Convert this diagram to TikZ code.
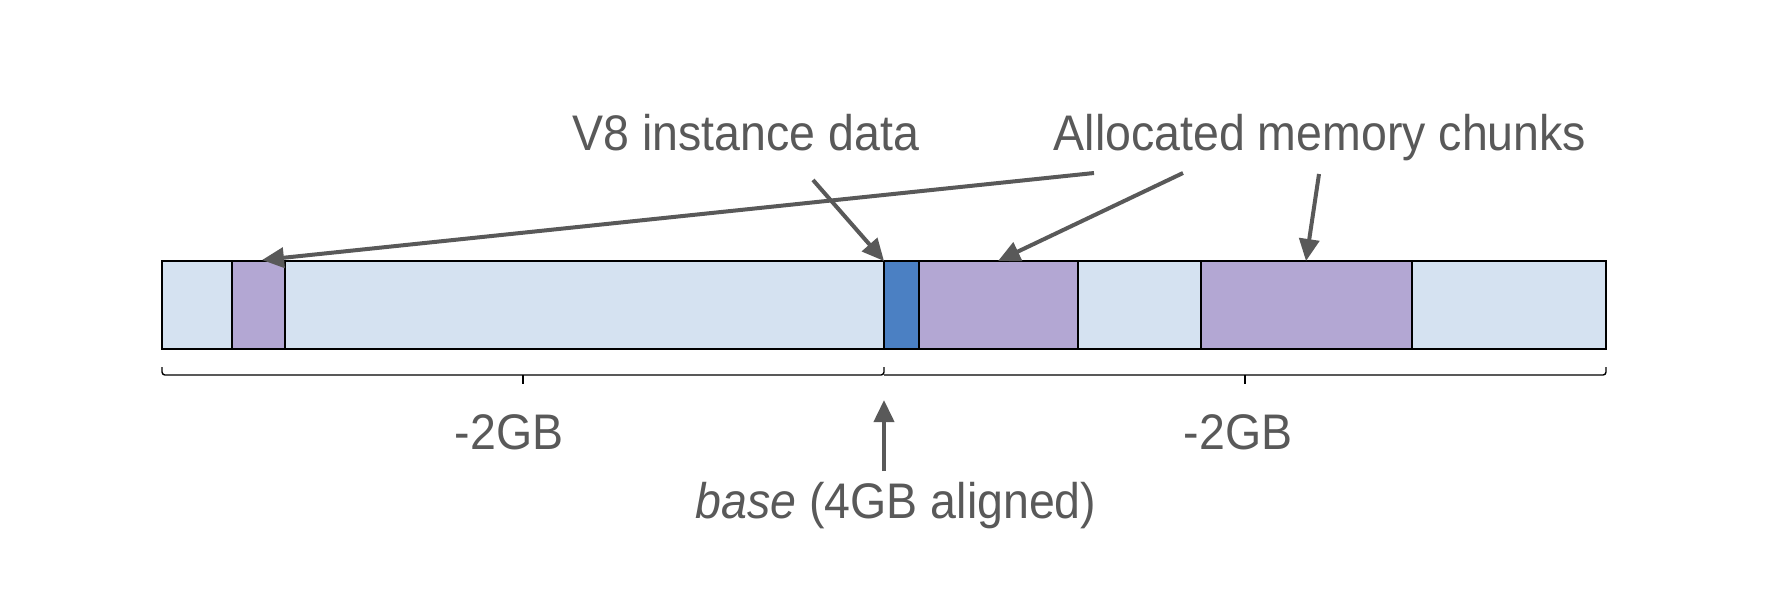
\documentclass[tikz,border=0pt]{standalone}
\usepackage{fontspec}
\setmainfont{Liberation Sans}[FakeStretch=0.93]
\usetikzlibrary{arrows.meta}
\definecolor{txt}{HTML}{595959}
\definecolor{light}{HTML}{D5E2F1}
\definecolor{chunk}{HTML}{B3A7D3}
\definecolor{inst}{HTML}{4B80C3}
\begin{document}
\begin{tikzpicture}[x=0.5pt,y=-0.5pt,
  seg/.style={draw=black,line width=1pt},
  ptr/.style={draw=txt,line width=2pt,-{Triangle[length=11pt,width=10pt]}},
  lbl/.style={text=txt,font=\fontsize{25}{30}\selectfont,inner sep=0pt,anchor=base},
  bracket/.style={draw=black,line width=0.7pt,rounded corners=1.5pt}]
\useasboundingbox (0,0) rectangle (1766,602);
\fill[white] (0,0) rectangle (1766,602);
% memory bar
\filldraw[seg,fill=light] (162,261) rectangle (1606,349);
\filldraw[seg,fill=chunk] (232,261) rectangle (285,349);
\filldraw[seg,fill=inst] (884,261) rectangle (919,349);
\filldraw[seg,fill=chunk] (919,261) rectangle (1078,349);
\filldraw[seg,fill=chunk] (1201,261) rectangle (1412,349);
% brackets
\draw[bracket] (162,367) -- (162,375) -- (884,375) -- (884,367);
\draw[bracket] (884,375) -- (1606,375) -- (1606,367);
\draw[black,line width=0.7pt] (523,375) -- (523,384);
\draw[black,line width=0.7pt] (1245,375) -- (1245,384);
% labels
\node[lbl] (v8) at (746,150) {V8 instance data};
\node[lbl] (alloc) at (1320,150) {Allocated memory chunks};
\node[lbl] (gl) at (509,449) {-2GB};
\node[lbl] (gr) at (1238,449) {-2GB};
\node[lbl] (base) at (896,518) {\textit{base} (4GB aligned)};
% arrow end points
\coordinate (a1s) at (1094,173);
\coordinate (a1e) at (262,260);
\coordinate (vs) at (813,180);
\coordinate (ve) at (884,261);
\coordinate (a2s) at (1183,173);
\coordinate (a2e) at (998,261);
\coordinate (a3s) at (1319,174);
\coordinate (a3e) at (1306,261);
\coordinate (bs) at (884,471);
\coordinate (be) at (884,400);
\draw[ptr] (a1s) -- (a1e);
\draw[ptr] (vs) -- (ve);
\draw[ptr] (a2s) -- (a2e);
\draw[ptr] (a3s) -- (a3e);
\draw[ptr] (bs) -- (be);
\end{tikzpicture}
\end{document}
